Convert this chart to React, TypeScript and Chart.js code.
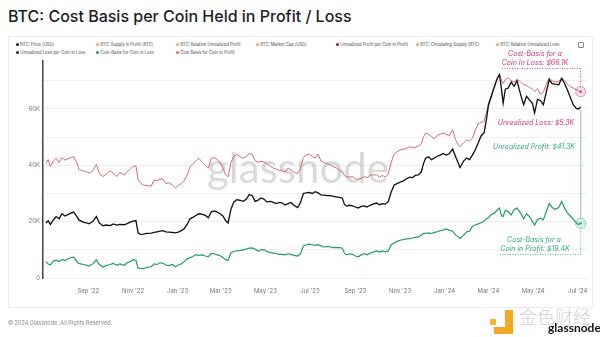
import React, { useEffect, useRef } from "react";
import { Chart, registerables } from "chart.js";
Chart.register(...registerables);

// days since 2022-07-01
const days = [4,7,10,14,18,22,26,30,34,38,42,47,49,55,59,63,68,73,77,82,86,92,96,101,105,111,115,119,123,127,130,133,137,142,148,152,156,160,164,168,172,177,181,185,189,193,197,201,205,209,213,218,222,226,230,234,238,242,246,250,253,257,261,265,270,274,278,282,286,290,294,298,302,306,311,315,319,323,327,331,335,339,343,348,352,356,360,364,368,372,376,380,384,389,393,397,401,405,409,412,415,419,423,427,431,435,439,443,447,451,456,460,464,468,472,476,480,484,488,492,497,501,505,509,513,517,520,523,527,531,535,539,543,547,551,555,560,564,568,570,575,579,583,587,591,595,599,603,606,609,613,617,621,624,627,629,632,636,640,644,648,653,657,661,665,669,672,676,680,684,688,692,696,700,705,709,713,717,721,725,729,732,735];

// BTC price, thousands USD
const btcPrice = [19.5,20.3,19.0,20.5,21.8,21.0,22.8,22.0,22.5,23.0,23.4,21.5,20.6,19.8,19.6,19.2,20.0,21.8,19.5,18.5,18.8,18.6,19.2,18.8,19.0,18.9,19.3,19.8,20.2,20.4,16.0,15.5,15.6,15.8,15.9,16.2,16.4,16.6,16.8,16.4,16.3,16.2,16.0,16.3,16.8,17.5,19.0,21.0,21.5,22.2,22.8,22.6,22.2,21.4,23.5,23.8,23.4,22.8,22.0,20.2,19.5,24.5,27.0,27.8,27.5,27.2,28.0,29.6,29.2,27.2,27.6,28.4,28.0,27.0,27.2,26.8,26.4,26.8,26.6,25.9,26.4,26.8,25.8,25.0,26.8,30.0,30.2,30.4,30.0,30.6,30.2,29.5,29.4,29.2,29.2,29.0,28.8,28.6,28.4,26.2,25.5,25.8,25.6,25.2,24.8,25.4,25.6,25.2,25.8,26.2,26.6,26.0,26.4,26.2,27.2,30.5,33.0,33.5,34.0,34.4,35.2,35.8,35.6,36.4,36.6,37.6,40.5,42.5,43.0,42.0,42.6,43.2,43.6,44.2,43.6,44.0,45.8,43.0,40.5,39.2,41.5,42.6,42.0,43.6,45.5,48.0,50.5,51.6,56.0,61.4,64.5,67.8,70.8,72.2,66.5,62.0,67.0,67.4,69.5,68.0,70.0,65.0,61.5,64.5,63.2,62.0,58.6,63.4,63.0,61.4,66.0,70.4,69.0,68.8,68.6,70.8,69.0,66.6,64.0,61.4,60.2,60.0,60.7];

// Cost basis for a coin in loss, thousands USD
const costBasisInLoss = [40.5,42.0,39.5,41.5,42.5,41.0,42.8,41.8,42.3,42.8,43.0,40.5,38.5,38.0,37.8,37.2,38.0,40.3,37.0,36.0,36.8,38.0,37.2,36.0,37.5,36.5,37.8,38.5,39.6,39.8,35.0,33.8,33.0,32.8,32.6,34.8,34.5,35.2,35.0,33.5,33.8,33.0,32.0,32.8,33.5,34.5,36.5,39.5,40.5,41.5,42.5,41.0,40.0,39.0,42.4,42.8,42.0,41.0,39.0,36.5,35.9,41.0,43.2,43.8,43.0,42.5,43.2,44.2,43.8,41.6,41.0,41.4,41.2,40.6,39.6,39.0,38.6,38.2,38.0,37.6,39.0,38.4,37.6,37.0,38.8,42.8,43.6,44.0,43.2,42.5,44.0,41.5,41.0,40.5,40.2,39.5,39.0,38.2,37.8,36.4,35.9,35.8,36.0,35.2,35.0,35.4,36.0,35.6,36.4,36.6,36.6,35.8,36.4,35.8,37.0,41.0,44.0,44.8,45.4,45.6,46.0,46.6,46.2,46.4,46.8,47.5,50.0,51.4,51.0,50.2,49.4,50.6,51.0,51.4,51.0,50.4,52.6,49.0,47.2,46.6,48.0,49.0,48.6,49.6,52.5,54.8,55.2,55.6,58.5,62.0,65.0,68.2,71.0,72.2,70.0,69.0,70.5,71.0,70.0,69.5,70.5,69.5,68.6,68.4,67.6,67.0,66.2,67.2,65.2,66.0,68.8,71.0,70.0,69.6,69.8,71.0,70.0,68.8,67.8,67.4,66.8,66.4,66.1];

// Cost basis for a coin in profit, thousands USD
const costBasisInProfit = [5.8,5.0,4.6,6.0,6.3,5.8,6.6,6.2,6.8,7.2,7.4,5.6,5.2,4.8,4.6,4.2,5.0,6.5,4.8,3.9,4.4,4.8,5.2,4.5,5.0,4.5,5.4,5.8,6.5,6.3,3.5,3.4,3.3,3.8,4.0,5.0,4.8,5.4,5.2,4.6,4.4,4.8,4.0,4.6,5.0,5.8,6.8,7.2,7.6,8.3,8.0,8.2,7.8,7.6,8.7,8.6,8.2,8.0,7.2,6.5,6.2,9.0,9.5,9.6,9.8,10.0,10.3,10.6,10.7,10.3,9.5,10.0,10.1,9.4,9.0,8.8,8.6,8.4,8.4,8.2,8.6,8.4,8.0,7.8,8.6,11.4,11.8,12.0,11.8,11.6,11.8,11.4,11.0,11.2,11.0,10.8,10.8,10.8,10.6,8.8,8.2,8.6,8.4,7.8,7.5,8.2,8.6,8.2,8.8,9.2,9.6,9.2,9.6,9.3,9.6,11.8,12.4,13.0,13.4,13.6,13.9,14.0,14.2,14.4,14.6,15.2,15.8,15.8,16.0,15.8,16.2,16.4,16.8,17.0,17.4,17.0,16.6,15.2,14.6,14.0,15.2,16.4,16.6,18.4,18.8,19.2,19.6,20.2,21.0,21.4,22.6,23.0,24.2,24.8,22.0,21.8,24.0,23.6,22.4,24.2,24.8,23.0,21.0,22.8,21.8,20.0,18.8,20.8,21.2,20.6,23.6,26.4,25.0,24.4,25.0,27.2,24.8,23.0,22.0,20.8,19.6,19.0,19.4];

const tickDays = [62,123,184,243,304,365,427,488,549,609,670,731];
const tickLabels = ["Sep '22","Nov '22","Jan '23","Mar '23","May '23","Jul '23","Sep '23","Nov '23","Jan '24","Mar '24","May '24","Jul '24"];
const yTickValues = [0,10,20,30,40,50,60,70];

const legendRow1 = ["BTC: Price [USD]","BTC: Supply in Profit [BTC]","BTC: Relative Unrealized Profit","BTC: Market Cap [USD]","Unrealized Profit per Coin in Profit","BTC: Circulating Supply [BTC]","BTC: Relative Unrealized Loss"];
const legendRow1Colors = ["#111111","#e9a64b","#e9a64b","#e9a64b","#8e1b2a","#e9a64b","#e9a64b"];
const legendRow2 = ["Unrealized Loss per Coin in Loss","Cost-Basis for Coin in Loss","Cost Basis for Coin in Profit"];
const legendRow2Colors = ["#1c2260","#1f9a5e","#d46a6a"];

const BLACK = "#0d0d0d";
const RED = "#d16b6b";
const GREEN = "#1f9d62";
const PINK = "#d0307a";
const TEAL = "#27ad87";

const overlayPlugin = {
  id: "overlay",
  beforeDatasetsDraw(chart: any) {
    const ctx = chart.ctx;
    ctx.save();
    ctx.font = "400 42px Lato";
    ctx.fillStyle = "rgba(0,0,0,0.15)";
    ctx.textAlign = "center";
    ctx.textBaseline = "alphabetic";
    ctx.fillText("glassnode", 298, 183);
    ctx.restore();
  },
  afterDatasetsDraw(chart: any) {
    const ctx = chart.ctx;
    const pt = (i: number) => {
      const d = chart.getDatasetMeta(i).data;
      return d[d.length - 1];
    };
    const pBlack = pt(0);
    const pRed = pt(1);
    const pGreen = pt(2);
    const ex = pRed.x;
    ctx.save();
    // pink dotted guides
    ctx.strokeStyle = PINK;
    ctx.lineWidth = 0.8;
    ctx.setLineDash([1, 1.5]);
    ctx.beginPath();
    ctx.moveTo(502, 68.5);
    ctx.lineTo(ex, 68.5);
    ctx.moveTo(ex, 68.5);
    ctx.lineTo(ex, pRed.y - 5);
    ctx.stroke();
    // teal dotted guides
    ctx.strokeStyle = TEAL;
    ctx.beginPath();
    ctx.moveTo(500, 254.5);
    ctx.lineTo(ex, 254.5);
    ctx.moveTo(ex, pGreen.y + 5);
    ctx.lineTo(ex, 254.5);
    ctx.stroke();
    // solid connector
    ctx.setLineDash([]);
    ctx.strokeStyle = "#b7d2cd";
    ctx.lineWidth = 1.5;
    ctx.beginPath();
    ctx.moveTo(ex, pBlack.y + 3);
    ctx.lineTo(ex, pGreen.y - 5);
    ctx.stroke();
    // circles
    const circ = (x: number, y: number, stroke: string, fill: string) => {
      ctx.setLineDash([1.5, 1.2]);
      ctx.lineWidth = 0.9;
      ctx.strokeStyle = stroke;
      ctx.fillStyle = fill;
      ctx.beginPath();
      ctx.arc(x, y, 5, 0, Math.PI * 2);
      ctx.fill();
      ctx.stroke();
      ctx.setLineDash([]);
      ctx.fillStyle = stroke;
      ctx.beginPath();
      ctx.arc(x, y, 1.2, 0, Math.PI * 2);
      ctx.fill();
    };
    circ(ex, pRed.y, PINK, "rgba(230,80,140,0.18)");
    circ(ex, pGreen.y, TEAL, "rgba(40,180,130,0.18)");
    // texts
    ctx.font = "italic 7px Inter";
    ctx.textAlign = "center";
    ctx.textBaseline = "middle";
    ctx.fillStyle = PINK;
    ctx.fillText("Cost-Basis for a", 535, 54);
    ctx.fillText("Coin In Loss: $66.1K", 535, 63);
    ctx.fillText("Unrealized Loss: $5.3K", 536, 123);
    ctx.fillStyle = TEAL;
    ctx.fillText("Unrealized Profit: $41.3K", 534, 147);
    ctx.fillText("Cost-Basis for a", 534, 240);
    ctx.fillText("Coin in Profit: $19.4K", 535, 248.5);
    ctx.restore();
  },
};

function LegendItem({ x, y, color, label }: { x: number; y: number; color: string; label: string }) {
  return (
    <div style={{ position: "absolute", left: x - 1.5, top: y - 2.5, height: 5, display: "flex", alignItems: "center", whiteSpace: "nowrap" }}>
      <span style={{ display: "inline-block", width: 3, height: 3, borderRadius: "50%", background: color, marginRight: 1.8 }} />
      <span style={{ fontSize: 4.2, lineHeight: "5px", color: "#444" }}>{label}</span>
    </div>
  );
}

export default function App() {
  const canvasRef = useRef<HTMLCanvasElement | null>(null);

  useEffect(() => {
    if (!canvasRef.current) return;
    const mk = (vals: number[]) => days.map((d, i) => ({ x: d, y: vals[i] }));
    const chart = new Chart(canvasRef.current, {
      type: "line",
      data: {
        datasets: [
          { label: "BTC: Price [USD]", data: mk(btcPrice), borderColor: BLACK, borderWidth: 1.3, pointRadius: 0, tension: 0 },
          { label: "Cost-Basis for Coin in Loss", data: mk(costBasisInLoss), borderColor: RED, borderWidth: 1, pointRadius: 0, tension: 0 },
          { label: "Cost Basis for Coin in Profit", data: mk(costBasisInProfit), borderColor: GREEN, borderWidth: 1.2, pointRadius: 0, tension: 0 },
        ],
      },
      options: {
        responsive: false,
        animation: false,
        devicePixelRatio: 1,
        parsing: true,
        layout: { padding: { left: 8, right: 12, top: 61, bottom: 37 } },
        plugins: { legend: { display: false }, tooltip: { enabled: false }, title: { display: false } },
        scales: {
          x: {
            type: "linear",
            min: 0,
            max: 745,
            grid: { display: false, drawTicks: false },
            border: { display: false },
            afterBuildTicks: (scale: any) => {
              scale.ticks = tickDays.map((v) => ({ value: v }));
            },
            afterFit: (scale: any) => {
              scale.height = 22;
            },
            ticks: {
              autoSkip: false,
              maxRotation: 0,
              padding: 10,
              color: "#777",
              font: { family: "Inter", size: 6 },
              callback: (_v: any, i: number) => tickLabels[i],
            },
          },
          y: {
            type: "linear",
            min: 0,
            max: 77,
            grid: { color: "#efefef", lineWidth: 1, drawTicks: false },
            border: { display: true, color: "#454545", width: 1.5 },
            afterBuildTicks: (scale: any) => {
              scale.ticks = yTickValues.map((v) => ({ value: v }));
            },
            afterFit: (scale: any) => {
              scale.width = 35;
            },
            ticks: {
              padding: 3,
              color: "#777",
              font: { family: "Inter", size: 6 },
              callback: (v: any) => (v === 0 ? "0" : v % 20 === 0 ? `${v}K` : ""),
            },
          },
        },
      },
      plugins: [overlayPlugin],
    } as any);
    return () => chart.destroy();
  }, []);

  return (
    <div style={{ position: "absolute", left: 0, top: 0, width: 600, height: 337, background: "#fff", overflow: "hidden", fontFamily: "Inter, 'Noto Sans', sans-serif" }}>
      <div style={{ position: "absolute", left: 8, top: 8, fontSize: 16, lineHeight: "16px", fontWeight: 500, color: "#1d1d1f", whiteSpace: "nowrap" }}>
        BTC: Cost Basis per Coin Held in Profit / Loss
      </div>
      <div style={{ position: "absolute", left: 8, top: 36, width: 583, height: 270, border: "1px solid #ececec", borderRadius: 2, background: "#fff" }} />
      {legendRow1.map((l, i) => (
        <LegendItem key={"a" + i} x={17 + i * 80} y={44} color={legendRow1Colors[i]} label={l} />
      ))}
      {legendRow2.map((l, i) => (
        <LegendItem key={"b" + i} x={17 + i * 80} y={52} color={legendRow2Colors[i]} label={l} />
      ))}
      <div style={{ position: "absolute", left: 578, top: 42, width: 4, height: 4, border: "1px solid #888", borderRadius: 1 }} />
      <canvas ref={canvasRef} width={600} height={337} style={{ position: "absolute", left: 0, top: 0, width: 600, height: 337 }} />
      <div style={{ position: "absolute", left: 8, top: 320, fontSize: 5.5, lineHeight: "6px", color: "#888", whiteSpace: "nowrap" }}>
        © 2024 Glassnode. All Rights Reserved.
      </div>
      <div style={{ position: "absolute", left: 490, top: 319, width: 6, height: 6, background: "#f2b533" }} />
      <div style={{ position: "absolute", left: 505, top: 310, width: 8, height: 24, background: "#f2a722" }} />
      <div style={{ position: "absolute", left: 494, top: 327, width: 19, height: 7, background: "#f2a722" }} />
      <div style={{ position: "absolute", left: 519, top: 306, fontFamily: "'Noto Sans CJK SC'", fontSize: 18, lineHeight: "20px", fontWeight: 300, color: "#d2d2d2", whiteSpace: "nowrap", letterSpacing: 0 }}>
        金色财经
      </div>
      <div style={{ position: "absolute", left: 548, top: 322, fontFamily: "Lato", fontSize: 12, lineHeight: "12px", fontWeight: 700, color: "#111", whiteSpace: "nowrap" }}>
        glassnode
      </div>
    </div>
  );
}
